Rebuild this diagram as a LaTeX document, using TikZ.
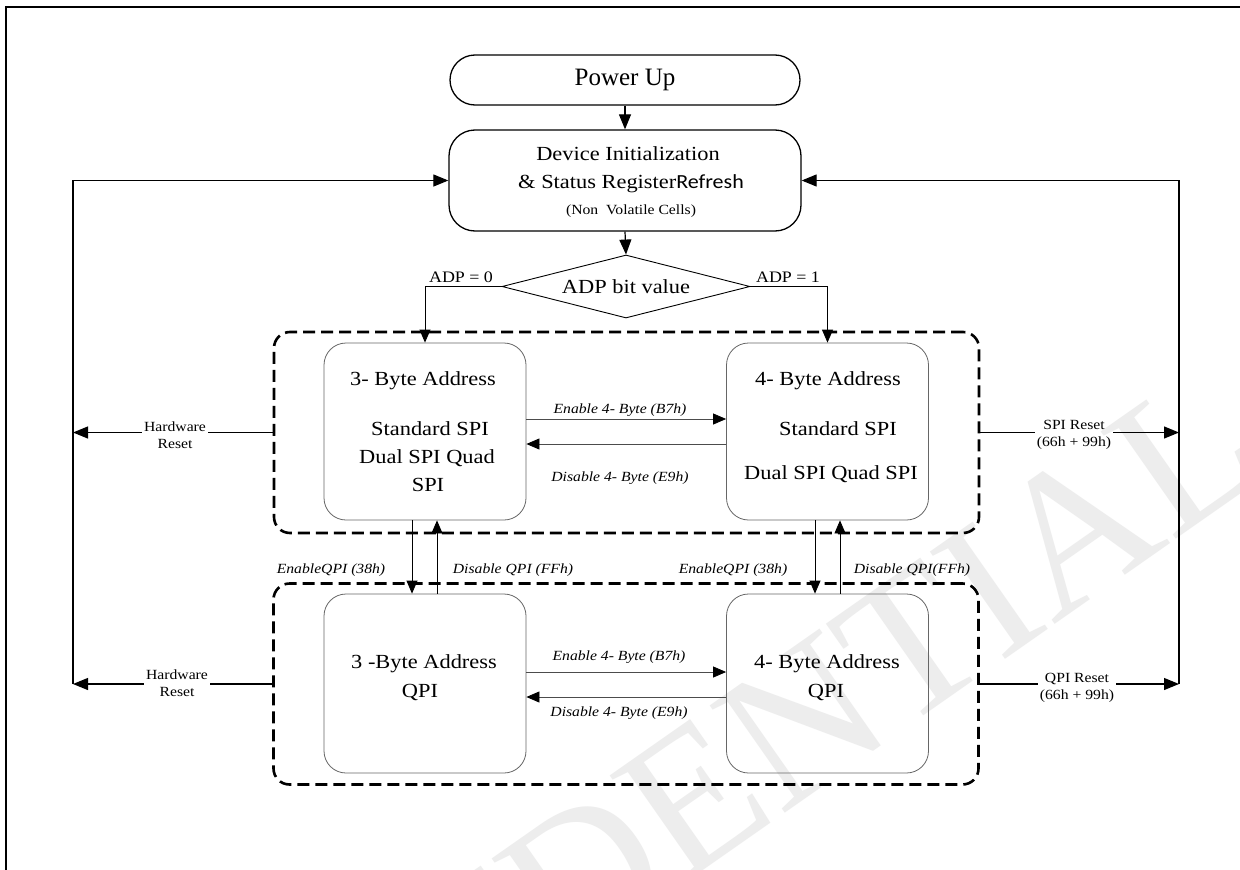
\documentclass[tikz,border=0pt]{standalone}
\usepackage{fontspec}
\setmainfont{Liberation Serif}[FakeStretch=1.12]
\newfontfamily\plainfont{Liberation Serif}
\newfontfamily\calfont{Carlito}[FakeStretch=1.1]
\usetikzlibrary{arrows.meta,shapes.geometric}
\newcommand\fsz[1]{\fontsize{#1}{#1}\selectfont}
\begin{document}
\begin{tikzpicture}[x=1pt,y=-1pt,
  arr/.style={-{Triangle[length=15pt,width=12pt,color=black]}, line width=1.2pt},
  marr/.style={-{Triangle[length=13pt,width=11pt,color=black]}, line width=0.9pt},
  sarr/.style={-{Triangle[length=13pt,width=11pt,color=black]}, line width=0.8pt, draw=black!70},
  pbox/.style={draw, line width=1.3pt, inner sep=0pt},
  ibox/.style={draw=black!60, line width=0.8pt, rounded corners=22pt, minimum width=202pt, inner sep=0pt},
  dbox/.style={draw, line width=2.6pt, dash pattern=on 12pt off 6pt, rounded corners=16pt, minimum width=705pt, minimum height=201pt, inner sep=0pt},
  btxt/.style={font=\fsz{20}, inner sep=0pt},
  lab/.style={font=\fsz{14}\itshape, inner sep=0pt},
  rlab/.style={font=\fontsize{14}{17}\selectfont, align=center, inner sep=2pt},
  wm/.style={text=black!7, font=\plainfont\fontsize{200}{200}\selectfont}
]
\useasboundingbox (0,0) rectangle (1240,870);
\fill[white] (0,0) rectangle (1240,870);
% watermark
\node[wm, rotate=35, anchor=base east] (wmark) at (1275,470) {CONFIDENTIAL};
% frame
\draw[line width=1.3pt] (6,870) -- (6,7) -- (1240,7);

% top nodes
\node[pbox, minimum width=350pt, minimum height=50pt, rounded corners=25pt, font=\plainfont\fsz{25}] (pu) at (625,80) {Power Up};
\node[pbox, minimum width=352pt, minimum height=101pt, rounded corners=26pt] (di) at (625,180.5) {};
\node[btxt] (t1) at (628,154) {Device Initialization};
\node[btxt] (t2) at (631,184) {\& Status Register{\calfont Refresh}};
\node[font=\fsz{14}, inner sep=0pt] (t3) at (631,211) {(Non\ \ Volatile Cells)};
\node[draw, diamond, aspect=3.94, minimum width=248pt, minimum height=63pt, inner sep=0pt, line width=0.9pt, font=\fsz{20}] (dm) at (626,286.5) {ADP bit value};

% dashed groups
\node[dbox] (dt) at (626.5,432.5) {};
\node[dbox] (db) at (626,684) {};

% inner boxes
\node[ibox, minimum height=177pt] (a3) at (425,431.5) {};
\node[ibox, minimum height=177pt] (a4) at (827.5,431.5) {};
\node[ibox, minimum height=179pt] (q3) at (425,683.5) {};
\node[ibox, minimum height=179pt] (q4) at (827.5,683.5) {};

% inner texts
\node[btxt] (a3t1) at (423,381) {3- Byte Address};
\node[btxt] (a3t2) at (430,429) {Standard SPI};
\node[btxt] (a3t3) at (427,458) {Dual SPI Quad};
\node[btxt] (a3t4) at (428,485) {SPI};
\node[btxt] (a4t1) at (828,381) {4- Byte Address};
\node[btxt] (a4t2) at (838,429) {Standard SPI};
\node[btxt] (a4t3) at (831,474) {Dual SPI Quad SPI};
\node[btxt] (q3t1) at (424,664) {3 -Byte Address};
\node[btxt] (q3t2) at (420,692) {QPI};
\node[btxt] (q4t1) at (827,664) {4- Byte Address};
\node[btxt] (q4t2) at (826,692) {QPI};

% flow arrows
\draw[arr] (pu.south) -- (di.north);
\draw[arr] (di.south) -- (dm.north);
\draw[marr] (dm.west) -| (a3.north);
\draw[marr] (dm.east) -| (a4.north);
\node[font=\fsz{16}, inner sep=0pt] (l0) at (461,277) {ADP = 0};
\node[font=\fsz{16}, inner sep=0pt] (l1) at (788,277) {ADP = 1};

% horizontal mode arrows
\draw[sarr] ([yshift=12.5pt]a3.east) -- ([yshift=12.5pt]a4.west);
\draw[sarr] ([yshift=-12.5pt]a4.west) -- ([yshift=-12.5pt]a3.east);
\draw[sarr] ([yshift=11.5pt]q3.east) -- ([yshift=11.5pt]q4.west);
\draw[sarr] ([yshift=-13.5pt]q4.west) -- ([yshift=-13.5pt]q3.east);
\node[lab] (en1) at (620,410) {Enable 4- Byte (B7h)};
\node[lab] (ds1) at (620,478) {Disable 4- Byte (E9h)};
\node[lab] (en2) at (619,657) {Enable 4- Byte (B7h)};
\node[lab] (ds2) at (619,713) {Disable 4- Byte (E9h)};

% vertical QPI arrows
\draw[sarr, draw=black] ([xshift=-13pt]a3.south) -- ([xshift=-13pt]q3.north);
\draw[sarr, draw=black] ([xshift=12pt]q3.north) -- ([xshift=12pt]a3.south);
\draw[sarr, draw=black] ([xshift=-12.5pt]a4.south) -- ([xshift=-12.5pt]q4.north);
\draw[sarr, draw=black] ([xshift=12.5pt]q4.north) -- ([xshift=12.5pt]a4.south);
\node[lab] (e1) at (331,570) {EnableQPI (38h)};
\node[lab] (d1) at (513,570) {Disable QPI (FFh)};
\node[lab] (e2) at (733,570) {EnableQPI (38h)};
\node[lab] (d2) at (912,570) {Disable QPI(FFh)};

% reset paths
\coordinate (lb) at (73,684);
\coordinate (rb) at (1179,684);
\draw[arr] (lb) |- (di.west);
\draw[arr] (rb) |- (di.east);

\node[rlab] (hr1) at (175,435) {Hardware\\Reset};
\node[rlab] (hr2) at (177,683) {Hardware\\Reset};
\node[rlab] (spi) at (1074,435) {SPI Reset\\(66h + 99h)};
\node[rlab] (qpi) at (1077,688) {QPI Reset\\(66h + 99h)};

\draw[line width=1.2pt] (dt.west) -- (dt.west -| hr1.east);
\draw[arr] (dt.west -| hr1.west) -- (dt.west -| lb);
\draw[line width=1.2pt] (db.west) -- (db.west -| hr2.east);
\draw[arr] (db.west -| hr2.west) -- (lb);
\draw[line width=1.2pt] (dt.east) -- (dt.east -| spi.west);
\draw[arr] (dt.east -| spi.east) -- (dt.east -| rb);
\draw[line width=1.2pt] (db.east) -- (db.east -| qpi.west);
\draw[arr] (db.east -| qpi.east) -- (rb);
\end{tikzpicture}
\end{document}
